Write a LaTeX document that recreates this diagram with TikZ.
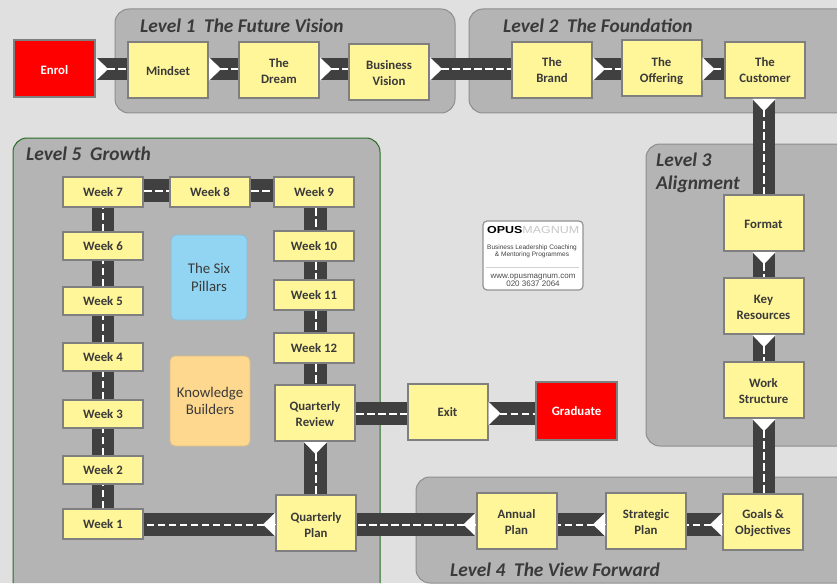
\documentclass[tikz,border=0pt]{standalone}
\usepackage{fontspec}
\setmainfont{Carlito}
\newfontfamily\logofont{Liberation Sans}
\newfontfamily\logowide[FakeStretch=1.22]{Liberation Sans}
\usetikzlibrary{calc,arrows.meta}
\pgfdeclarelayer{panels}
\pgfdeclarelayer{roads}
\pgfsetlayers{panels,roads,main}
\definecolor{pagebg}{HTML}{E0E0E0}
\definecolor{panelbg}{HTML}{B4B4B4}
\definecolor{panelline}{HTML}{8E8E8E}
\definecolor{boxfill}{HTML}{FFF599}
\definecolor{boxline}{HTML}{7F7F7F}
\definecolor{ink}{HTML}{3A3A3A}
\definecolor{roadcol}{HTML}{404040}
\definecolor{sixblue}{HTML}{92D5F3}
\definecolor{knoworange}{HTML}{FFD88F}
\newcommand\liftone{\rule{0pt}{11.5pt}}
\newcommand\lifttwo{\rule{0pt}{13.5pt}}
\tikzset{
  x=1pt,y=-1pt,
  panel/.style={fill=panelbg,draw=panelline,line width=1pt,rounded corners=14},
  greenpanel/.style={fill=panelbg,draw=green!40!black!70!gray,line width=1pt,rounded corners=14},
  paneltitle/.style={anchor=west,text=ink,font=\fontsize{19.4}{23}\selectfont\bfseries\itshape,align=left,inner sep=0},
  stage/.style={draw=boxline,fill=boxfill,line width=2pt,text=ink,align=center,inner sep=0,
     minimum width=80,minimum height=56,font=\fontsize{12.8}{16}\selectfont\bfseries},
  week/.style={stage,minimum height=30},
  redstage/.style={stage,fill=red,text=white},
  resource/.style={draw=#1!70!gray,fill=#1,line width=0.8pt,rounded corners=5,text=ink,align=center,inner sep=0,
     font=\fontsize{14.8}{18}\selectfont},
  roadbed/.style={draw=roadcol,line width=22.5pt},
  roadline/.style={draw=white,line width=2pt,dash pattern=on 7.5pt off 3.5pt},
  roadtip/.style={draw=white,line width=0.1pt,-{Triangle[length=12pt,width=23pt,fill=white]}},
}
\newcommand\roadlink[2]{%
  \begin{pgfonlayer}{roads}
    \draw[roadbed] #1 -- #2;
    \draw[roadline] #1 -- #2;
  \end{pgfonlayer}}
\newcommand\arrowlink[2]{%
  \roadlink{#1}{#2}%
  \draw[roadtip] #1 -- ($#1!12pt!#2$);}
\begin{document}
\begin{tikzpicture}
\useasboundingbox (0,0) rectangle (837,583);
\begin{pgfonlayer}{panels}
  \fill[pagebg] (0,0) rectangle (837,583);
  \draw[panel] (115,9) rectangle (455,113);
  \draw[panel] (837,9) -- (469,9) -- (469,113) -- (837,113);
  \draw[panel] (837,144) -- (646,144) -- (646,446) -- (837,446);
  \draw[panel] (837,477) -- (416,477) -- (416,583) -- (837,583);
  \draw[greenpanel] (13,583) -- (13,138) -- (380,138) -- (380,583);
\end{pgfonlayer}
\node[paneltitle] (t1) at (140,26) {Level 1\ \ The Future Vision};
\node[paneltitle] (t2) at (503,26) {Level 2\ \ The Foundation};
\node[paneltitle] (t3) at (656,172.5) {Level 3\\Alignment};
\node[paneltitle] (t4) at (450,570) {Level 4\ \ The View Forward};
\node[paneltitle] (t5) at (26,154) {Level 5\ \ Growth};

\node[redstage,minimum width=81,minimum height=57] (enrol) at (54.5,68.5) {\liftone Enrol};
\node[stage] (mindset) at (168,70) {\liftone Mindset};
\node[stage] (dream) at (279,70) {\liftone The\\Dream};
\node[stage] (business) at (389,72) {\liftone Business\\Vision};
\node[stage] (brand) at (552,70) {The\\Brand};
\node[stage] (offering) at (661.5,68.5) {\lifttwo The\\Offering};
\node[stage] (customer) at (765,70) {The\\Customer};
\node[stage] (format) at (763.5,223) {\liftone Format};
\node[stage] (key) at (763.5,306) {\liftone Key\\Resources};
\node[stage] (work) at (763.5,390) {\liftone Work\\Structure};
\node[stage] (goals) at (763,521.5) {\liftone Goals \&\\Objectives};
\node[stage] (strategic) at (646,521) {\liftone Strategic\\Plan};
\node[stage] (annual) at (516.5,521) {\liftone Annual\\Plan};
\node[stage] (qplan) at (316,522.5) {\lifttwo Quarterly\\Plan};
\node[stage] (qreview) at (315,413) {\liftone Quarterly\\Review};
\node[stage] (exit) at (447.5,412) {Exit};
\node[redstage,minimum width=81,minimum height=58] (graduate) at (576.5,411) {Graduate};

\node[week] (w7) at (103,192) {Week 7};
\node[week] (w8) at (210,192) {Week 8};
\node[week] (w9) at (314,192) {Week 9};
\node[week] (w10) at (314,246) {Week 10};
\node[week] (w11) at (314,295) {Week 11};
\node[week] (w12) at (314,348) {Week 12};
\node[week,minimum height=28] (w6) at (103,246) {Week 6};
\node[week,minimum height=28] (w5) at (103,301) {Week 5};
\node[week,minimum height=28] (w4) at (103,357) {Week 4};
\node[week,minimum height=28] (w3) at (103,414) {Week 3};
\node[week,minimum height=28] (w2) at (103,470) {Week 2};
\node[week] (w1) at (103,524) {Week 1};

\node[resource=sixblue,minimum width=76,minimum height=85] (six) at (209,277.5) {The Six\\Pillars};
\node[resource=knoworange,minimum width=80,minimum height=90,font=\fontsize{14.8}{16.5}\selectfont] (know) at (210,401) {Knowledge\\Builders};

% road alignment guides
\coordinate (r1) at (0,69);
\coordinate (r5) at (0,190.5);
\coordinate (rx) at (0,413.5);
\coordinate (r4) at (0,524.5);
\coordinate (c3) at (764,0);
\coordinate (cl) at (103,0);
\coordinate (cr) at (315.5,0);

\arrowlink{(enrol.east |- r1)}{(mindset.west |- r1)}
\arrowlink{(mindset.east |- r1)}{(dream.west |- r1)}
\arrowlink{(dream.east |- r1)}{(business.west |- r1)}
\arrowlink{(business.east |- r1)}{(brand.west |- r1)}
\arrowlink{(brand.east |- r1)}{(offering.west |- r1)}
\arrowlink{(offering.east |- r1)}{(customer.west |- r1)}
\arrowlink{(customer.south -| c3)}{(format.north -| c3)}
\arrowlink{(format.south -| c3)}{(key.north -| c3)}
\arrowlink{(key.south -| c3)}{(work.north -| c3)}
\arrowlink{(work.south -| c3)}{(goals.north -| c3)}
\arrowlink{(goals.west |- r4)}{(strategic.east |- r4)}
\arrowlink{(strategic.west |- r4)}{(annual.east |- r4)}
\arrowlink{(annual.west |- r4)}{(qplan.east |- r4)}
\arrowlink{(qplan.west |- r4)}{(w1.east |- r4)}
\roadlink{(w1.north -| cl)}{(w2.south -| cl)}
\roadlink{(w2.north -| cl)}{(w3.south -| cl)}
\roadlink{(w3.north -| cl)}{(w4.south -| cl)}
\roadlink{(w4.north -| cl)}{(w5.south -| cl)}
\roadlink{(w5.north -| cl)}{(w6.south -| cl)}
\roadlink{(w6.north -| cl)}{(w7.south -| cl)}
\roadlink{(w7.east |- r5)}{(w8.west |- r5)}
\roadlink{(w8.east |- r5)}{(w9.west |- r5)}
\roadlink{(w9.south -| cr)}{(w10.north -| cr)}
\roadlink{(w10.south -| cr)}{(w11.north -| cr)}
\roadlink{(w11.south -| cr)}{(w12.north -| cr)}
\roadlink{(w12.south -| cr)}{(qreview.north -| cr)}
\arrowlink{(qreview.south -| cr)}{(qplan.north -| cr)}
\roadlink{(qreview.east |- rx)}{(exit.west |- rx)}
\arrowlink{(exit.east |- rx)}{(graduate.west |- rx)}

% logo
\node[draw=boxline!85,fill=white,line width=1.2pt,rounded corners=4,minimum width=100,minimum height=69,inner sep=0] (logo) at (533,255.5) {};
\node[inner sep=0,anchor=west] (opus) at (487,229.5) {\fontsize{10.2}{10}\selectfont\logowide\bfseries \textcolor{black}{OPUS}\textcolor{black!22}{\mdseries MAGNUM}};
\node[inner sep=0,align=center,text=black!75,font=\fontsize{6.5}{7.2}\selectfont\logofont] (strap) at (532,251) {Business Leadership Coaching\\\& Mentoring Programmes};
\node[inner sep=0,align=center,text=black!70,font=\fontsize{8}{8.6}\selectfont\logofont] (web) at (533,280.5) {www.opusmagnum.com\\020 3637 2064};
\draw[black!18,line width=0.6pt] (486,267.5) -- (579,267.5);
\end{tikzpicture}
\end{document}
